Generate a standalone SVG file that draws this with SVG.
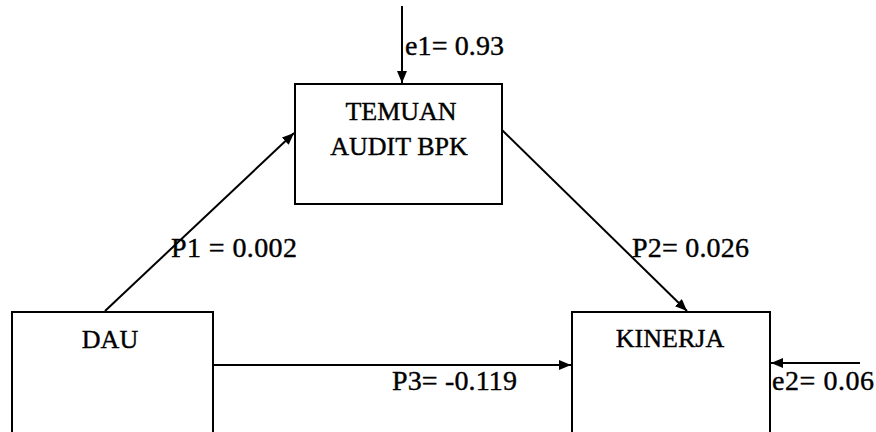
<svg xmlns="http://www.w3.org/2000/svg" width="876" height="432" viewBox="0 0 876 432">
<style>
.box{fill:#fff;stroke:#000;stroke-width:2}
.ln{stroke:#000;stroke-width:2;fill:none}
text{font-family:'Liberation Serif','Times New Roman','DejaVu Serif',serif;fill:#000;stroke:#000;stroke-width:0.4}
.t{font-size:26px}
.c{text-anchor:middle}
.lab{font-size:28px}
</style>
<defs>
<marker id="ah" viewBox="0 0 12 10" refX="12" refY="5" markerWidth="12" markerHeight="10" markerUnits="userSpaceOnUse" orient="auto">
<path d="M0,0 L12,5 L0,10 Z" fill="#000"/>
</marker>
</defs>
<rect width="876" height="432" fill="#fff"/>
<g id="temuan">
<rect class="box" x="295" y="84" width="207" height="120"/>
<text class="t c" x="401" y="120">TEMUAN</text>
<text class="t c" x="399" y="155">AUDIT BPK</text>
</g>
<g id="dau">
<rect class="box" x="12" y="312" width="201" height="140"/>
<text class="t c" x="110" y="348">DAU</text>
</g>
<g id="kinerja">
<rect class="box" x="572" y="312" width="198" height="140"/>
<text class="t c" x="670" y="347">KINERJA</text>
</g>
<g id="connectors">
<line class="ln" x1="402" y1="6" x2="402" y2="83" marker-end="url(#ah)"/>
<line class="ln" x1="105" y1="311" x2="294" y2="133" marker-end="url(#ah)"/>
<line class="ln" x1="502" y1="130" x2="687" y2="311" marker-end="url(#ah)"/>
<line class="ln" x1="213" y1="365" x2="571" y2="365" marker-end="url(#ah)"/>
<line class="ln" x1="860" y1="363" x2="771" y2="363" marker-end="url(#ah)"/>
</g>
<g id="labels">
<text class="lab" x="405" y="55" textLength="99" lengthAdjust="spacing">e1= 0.93</text>
<text class="lab" x="171" y="257" textLength="126" lengthAdjust="spacing">P1 = 0.002</text>
<text class="lab" x="632" y="257" textLength="117" lengthAdjust="spacing">P2= 0.026</text>
<text class="lab" x="392" y="390" textLength="125" lengthAdjust="spacing">P3= -0.119</text>
<text class="lab" x="772" y="390" textLength="102" lengthAdjust="spacing">e2= 0.06</text>
</g>
</svg>
